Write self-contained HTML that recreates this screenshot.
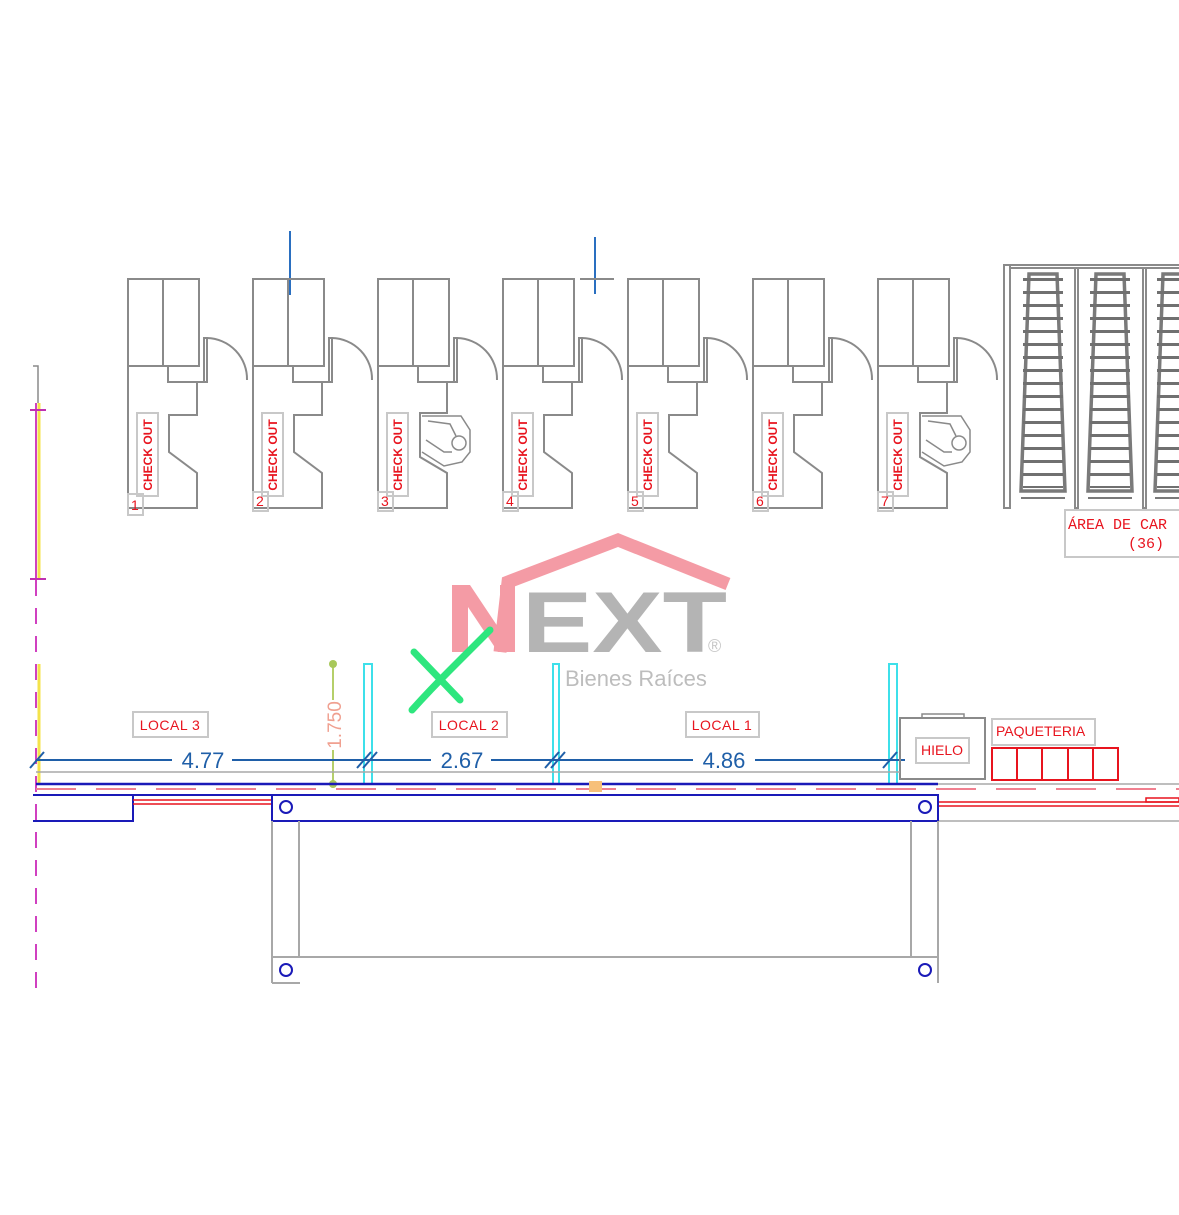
<!DOCTYPE html>
<html><head><meta charset="utf-8"><style>
html,body{margin:0;padding:0;background:#fff;}
svg{display:block;}
text{font-family:"Liberation Sans",sans-serif;}
</style></head><body>
<svg width="1179" height="1215" viewBox="0 0 1179 1215" xmlns="http://www.w3.org/2000/svg">
<defs>
<g id="unitA" fill="none" stroke="#8a8a8a" stroke-width="2">
  <rect x="0" y="279" width="71" height="87"/>
  <line x1="35" y1="279" x2="35" y2="366"/>
  <path d="M0,366 V508 H69 V473 L41,452 V415 H69 V382"/>
  <path d="M40,366 V382 H79 V366"/>
  <rect x="76" y="338" width="3" height="44"/>
  <path d="M79,338 A41,41 0 0 1 119,380"/>
</g>
<g id="unitB" fill="none" stroke="#8a8a8a" stroke-width="2">
  <rect x="0" y="279" width="71" height="87"/>
  <line x1="35" y1="279" x2="35" y2="366"/>
  <path d="M0,366 V508 H69 V473 L42,457 V413 H69 V382"/>
  <path d="M40,366 V382 H79 V366"/>
  <rect x="76" y="338" width="3" height="44"/>
  <path d="M79,338 A41,41 0 0 1 119,380"/>
  <path d="M44,416 H83 L92,430 V452 L84,462 L66,466 L44,452" stroke-width="1.5"/>
  <circle cx="81" cy="443" r="7" stroke-width="1.5"/>
  <path d="M50,421 L72,424 L78,436 M48,440 L66,452 L74,452" stroke-width="1.5"/>
</g>
<g id="cart" fill="none" stroke="#7a7a7a">
  <path d="M9,8 H37 L45,225 H1 Z" stroke-width="3.5"/>
  <line x1="23" y1="12" x2="23" y2="222" stroke-width="40" stroke-dasharray="3 10" stroke="#707070"/>
  <line x1="1" y1="232" x2="45" y2="232" stroke-width="2"/>
</g>
</defs>

<g stroke="#2a6fc0" stroke-width="2">
  <line x1="290" y1="231" x2="290" y2="295"/>
  <line x1="595" y1="237" x2="595" y2="294"/>
</g>
<line x1="580" y1="279" x2="614" y2="279" stroke="#8a8a8a" stroke-width="2"/>

<use href="#unitA" x="128"/>
<use href="#unitA" x="253"/>
<use href="#unitB" x="378"/>
<use href="#unitA" x="503"/>
<use href="#unitA" x="628"/>
<use href="#unitA" x="753"/>
<use href="#unitB" x="878"/>

<g fill="none" stroke="#c8c8c8" stroke-width="2">
  <rect x="137" y="413" width="21" height="83"/><rect x="128" y="494" width="15" height="21"/>
  <rect x="262" y="413" width="21" height="83"/><rect x="253" y="492" width="15" height="19"/>
  <rect x="387" y="413" width="21" height="83"/><rect x="378" y="492" width="15" height="19"/>
  <rect x="512" y="413" width="21" height="83"/><rect x="503" y="492" width="15" height="19"/>
  <rect x="637" y="413" width="21" height="83"/><rect x="628" y="492" width="15" height="19"/>
  <rect x="762" y="413" width="21" height="83"/><rect x="753" y="492" width="15" height="19"/>
  <rect x="887" y="413" width="21" height="83"/><rect x="878" y="492" width="15" height="19"/>
</g>
<g fill="#e8141e" font-size="12" font-weight="bold">
  <text transform="translate(152,455) rotate(-90)" text-anchor="middle">CHECK OUT</text>
  <text transform="translate(277,455) rotate(-90)" text-anchor="middle">CHECK OUT</text>
  <text transform="translate(402,455) rotate(-90)" text-anchor="middle">CHECK OUT</text>
  <text transform="translate(527,455) rotate(-90)" text-anchor="middle">CHECK OUT</text>
  <text transform="translate(652,455) rotate(-90)" text-anchor="middle">CHECK OUT</text>
  <text transform="translate(777,455) rotate(-90)" text-anchor="middle">CHECK OUT</text>
  <text transform="translate(902,455) rotate(-90)" text-anchor="middle">CHECK OUT</text>
</g>
<g fill="#e8141e" font-size="14">
  <text x="131" y="510">1</text><text x="256" y="506">2</text><text x="381" y="506">3</text>
  <text x="506" y="506">4</text><text x="631" y="506">5</text><text x="756" y="506">6</text><text x="881" y="506">7</text>
</g>

<g fill="none" stroke="#8a8a8a" stroke-width="2">
  <rect x="1004" y="265" width="6" height="243"/>
  <line x1="1004" y1="265" x2="1179" y2="265"/>
  <line x1="1010" y1="268" x2="1179" y2="268"/>
  <rect x="1075" y="268" width="3" height="240"/>
  <rect x="1143" y="268" width="3" height="240"/>
</g>
<use href="#cart" x="1020" y="266"/>
<use href="#cart" x="1087" y="266"/>
<use href="#cart" x="1154" y="266"/>
<rect x="1065" y="510" width="120" height="47" fill="#fff" stroke="#c8c8c8" stroke-width="2"/>
<text x="1068" y="529" fill="#e8141e" font-size="15" style="font-family:'Liberation Mono',monospace">ÁREA DE CAR</text>
<text x="1128" y="548" fill="#e8141e" font-size="15" style="font-family:'Liberation Mono',monospace">(36)</text>

<g opacity="0.55">
  <polyline points="500,652 508,582 618,540 728,584" fill="none" stroke="#ec4a5c" stroke-width="13"/>
  <path d="M452,652 V585 H470 L500,630 V585 H515 V652 H498 L468,607 V652 Z" fill="#ec4a5c"/>
  <text x="522" y="652" font-size="86" font-weight="bold" fill="#777" textLength="205" lengthAdjust="spacingAndGlyphs">EXT</text>
  <text x="708" y="652" font-size="18" fill="#999">®</text>
  <text x="565" y="686" font-size="22" fill="#888">Bienes Raíces</text>
</g>
<g stroke="#2ee67e" stroke-width="7" stroke-linecap="round" fill="none">
  <path d="M414,652 L460,700 M490,630 L450,670 Q430,690 412,710"/>
</g>

<path d="M33,366 H38 V403" fill="none" stroke="#8a8a8a" stroke-width="1.5"/>
<line x1="39" y1="403" x2="39" y2="580" stroke="#f4e34a" stroke-width="3"/>
<line x1="39" y1="664" x2="39" y2="784" stroke="#f4e34a" stroke-width="3"/>
<line x1="36" y1="403" x2="36" y2="580" stroke="#d040c0" stroke-width="2"/>
<line x1="36" y1="580" x2="36" y2="990" stroke="#d040c0" stroke-width="2" stroke-dasharray="16 12"/>
<g stroke="#c030b0" stroke-width="2"><line x1="30" y1="410" x2="46" y2="410"/><line x1="30" y1="579" x2="46" y2="579"/></g>

<g fill="none" stroke="#3ee0ea" stroke-width="2">
  <rect x="364" y="664" width="8" height="120"/>
  <rect x="553" y="664" width="6" height="120"/>
  <rect x="889" y="664" width="8" height="120"/>
</g>

<line x1="333" y1="664" x2="333" y2="784" stroke="#b5cf6a" stroke-width="2"/>
<circle cx="333" cy="664" r="4" fill="#a8c85a"/><circle cx="333" cy="784" r="4" fill="#a8c85a"/>
<rect x="325" y="700" width="16" height="50" fill="#fff"/>
<text transform="translate(341,725) rotate(-90)" text-anchor="middle" font-size="19" fill="#f0a090">1.750</text>

<line x1="36" y1="760" x2="905" y2="760" stroke="#1f5fa8" stroke-width="2"/>
<g stroke="#1f5fa8" stroke-width="2">
  <line x1="30" y1="768" x2="44" y2="752"/>
  <line x1="357" y1="768" x2="371" y2="752"/><line x1="363" y1="768" x2="377" y2="752"/>
  <line x1="545" y1="768" x2="559" y2="752"/><line x1="551" y1="768" x2="565" y2="752"/>
  <line x1="883" y1="768" x2="897" y2="752"/>
</g>
<g fill="#fff"><rect x="172" y="748" width="60" height="24"/><rect x="431" y="748" width="60" height="24"/><rect x="693" y="748" width="62" height="24"/></g>
<g fill="#1f5fa8" font-size="22" text-anchor="middle">
  <text x="203" y="768">4.77</text><text x="462" y="768">2.67</text><text x="724" y="768">4.86</text>
</g>

<g fill="#fff" stroke="#c8c8c8" stroke-width="2">
  <rect x="133" y="712" width="75" height="25"/><rect x="432" y="712" width="75" height="25"/><rect x="686" y="712" width="73" height="25"/>
</g>
<g fill="#e8141e" font-size="14" text-anchor="middle" letter-spacing="0.5">
  <text x="170" y="730">LOCAL  3</text><text x="469" y="730">LOCAL  2</text><text x="722" y="730">LOCAL  1</text>
</g>

<rect x="922" y="714" width="42" height="4" fill="none" stroke="#8a8a8a" stroke-width="1.5"/>
<rect x="900" y="718" width="85" height="61" fill="none" stroke="#8a8a8a" stroke-width="2"/>
<rect x="916" y="738" width="53" height="25" fill="none" stroke="#c8c8c8" stroke-width="2"/>
<text x="942" y="755" text-anchor="middle" fill="#e8141e" font-size="14">HIELO</text>
<rect x="992" y="719" width="103" height="26" fill="none" stroke="#c8c8c8" stroke-width="2"/>
<text x="996" y="736" fill="#e8141e" font-size="14">PAQUETERIA</text>
<g fill="none" stroke="#e8141e" stroke-width="2">
  <rect x="992" y="748" width="126" height="32"/>
  <line x1="1017" y1="748" x2="1017" y2="780"/><line x1="1042" y1="748" x2="1042" y2="780"/>
  <line x1="1068" y1="748" x2="1068" y2="780"/><line x1="1093" y1="748" x2="1093" y2="780"/>
</g>

<line x1="36" y1="772" x2="900" y2="772" stroke="#a8a8a8" stroke-width="1.5"/>
<line x1="36" y1="784" x2="938" y2="784" stroke="#1a1ab8" stroke-width="2.5"/>
<line x1="938" y1="784" x2="1179" y2="784" stroke="#a8a8a8" stroke-width="1.5"/>
<line x1="36" y1="789" x2="1179" y2="789" stroke="#f08090" stroke-width="2" stroke-dasharray="40 20"/>
<rect x="589" y="781" width="13" height="11" fill="#f7c07a"/>
<line x1="33" y1="795" x2="272" y2="795" stroke="#1a1ab8" stroke-width="2"/>
<path d="M33,821 H133 V795" fill="none" stroke="#1a1ab8" stroke-width="2"/>
<g stroke="#e8141e" stroke-width="1.5"><line x1="133" y1="800" x2="272" y2="800"/><line x1="133" y1="804" x2="272" y2="804"/>
<line x1="938" y1="802" x2="1179" y2="802"/><line x1="938" y1="806" x2="1179" y2="806"/></g>
<rect x="1146" y="798" width="33" height="4" fill="none" stroke="#e8141e" stroke-width="1.5"/>
<line x1="938" y1="821" x2="1179" y2="821" stroke="#a8a8a8" stroke-width="1.5"/>
<rect x="272" y="795" width="666" height="26" fill="none" stroke="#1a1ab8" stroke-width="2"/>

<g fill="none" stroke="#a8a8a8" stroke-width="2">
  <line x1="272" y1="821" x2="272" y2="983"/><line x1="299" y1="821" x2="299" y2="957"/>
  <line x1="911" y1="821" x2="911" y2="957"/><line x1="938" y1="821" x2="938" y2="983"/>
  <line x1="272" y1="957" x2="938" y2="957"/>
  <line x1="272" y1="983" x2="300" y2="983"/>
</g>
<g fill="none" stroke="#1a1ab8" stroke-width="2">
  <circle cx="286" cy="807" r="6"/><circle cx="925" cy="807" r="6"/>
  <circle cx="286" cy="970" r="6"/><circle cx="925" cy="970" r="6"/>
</g>
</svg>
</body></html>
